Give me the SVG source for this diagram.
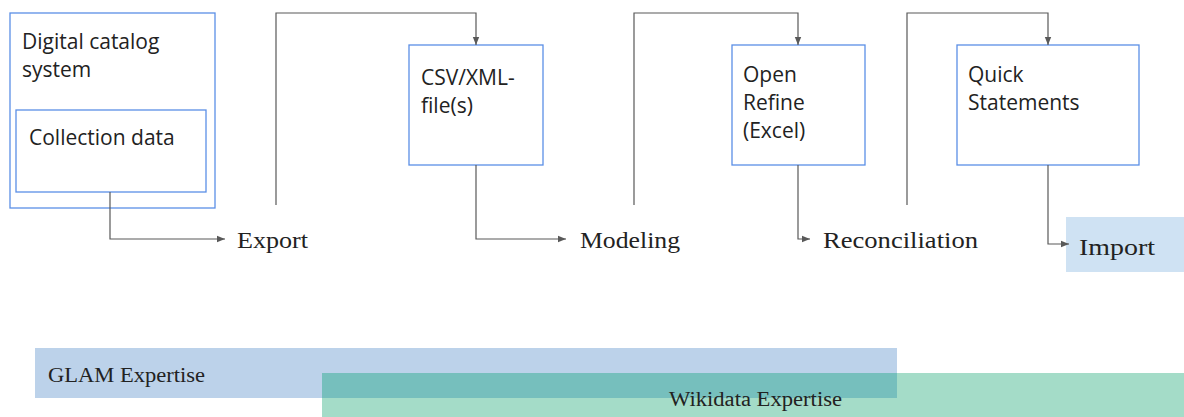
<svg xmlns="http://www.w3.org/2000/svg" width="1184" height="417" viewBox="0 0 1184 417">
<style>
.box{fill:#ffffff;stroke:#5b8fe6;stroke-width:1.3}
.lbl{font-family:"Open Sans","Noto Sans",sans-serif;font-size:21px;fill:#222222}
.step{font-family:"Liberation Serif","DejaVu Serif",serif;font-size:23px;fill:#222222}
.band{font-family:"Liberation Serif","DejaVu Serif",serif;font-size:20px;fill:#222222}
.conn{fill:none;stroke:#595959;stroke-width:1.2}
</style>
<defs>
<marker id="arr" viewBox="0 0 10 10" refX="10" refY="5" markerWidth="8" markerHeight="8" markerUnits="userSpaceOnUse" orient="auto">
<path d="M0,1 L10,5 L0,9 z" fill="#595959"/>
</marker>
</defs>
<g id="bands">
<rect id="glam-band" x="35" y="348" width="862" height="50" fill="#bcd2ea"/>
<rect id="wikidata-band" x="322" y="373" width="862" height="44" fill="#a4dcc8"/>
<rect x="322" y="373" width="575" height="25" fill="#76bfbd"/>
<text class="band" x="48" y="382" textLength="157" lengthAdjust="spacingAndGlyphs">GLAM Expertise</text>
<text class="band" x="669" y="406" textLength="173" lengthAdjust="spacingAndGlyphs">Wikidata Expertise</text>
</g>
<g id="catalog">
<rect class="box" x="10" y="13" width="205" height="195"/>
<text class="lbl" x="22" y="49">Digital catalog</text>
<text class="lbl" x="22" y="77">system</text>
</g>
<g id="collection">
<rect class="box" x="16" y="110" width="190" height="82"/>
<text class="lbl" x="29" y="145">Collection data</text>
</g>
<g id="csv">
<rect class="box" x="409" y="45" width="134" height="120"/>
<text class="lbl" x="421" y="85">CSV/XML-</text>
<text class="lbl" x="421" y="113">file(s)</text>
</g>
<g id="openrefine">
<rect class="box" x="732" y="45" width="133" height="120"/>
<text class="lbl" x="743" y="82">Open</text>
<text class="lbl" x="743" y="110">Refine</text>
<text class="lbl" x="743" y="138">(Excel)</text>
</g>
<g id="quickstatements">
<rect class="box" x="957" y="45" width="182" height="120"/>
<text class="lbl" x="968" y="82">Quick</text>
<text class="lbl" x="968" y="110">Statements</text>
</g>
<g id="export"><text class="step" x="237" y="248" textLength="71" lengthAdjust="spacingAndGlyphs">Export</text></g>
<g id="modeling"><text class="step" x="580" y="248" textLength="100" lengthAdjust="spacingAndGlyphs">Modeling</text></g>
<g id="reconciliation"><text class="step" x="823" y="248" textLength="155" lengthAdjust="spacingAndGlyphs">Reconciliation</text></g>
<g id="import">
<rect x="1066" y="217" width="118" height="55" fill="#cfe2f3"/>
<text class="step" x="1079" y="255" textLength="76" lengthAdjust="spacingAndGlyphs">Import</text>
</g>
<g id="connectors">
<path class="conn" d="M110,192 V239 H225" marker-end="url(#arr)"/>
<path class="conn" d="M276,205 V13 H476 V45" marker-end="url(#arr)"/>
<path class="conn" d="M476,165 V239 H566" marker-end="url(#arr)"/>
<path class="conn" d="M634,205 V13 H798 V45" marker-end="url(#arr)"/>
<path class="conn" d="M798,165 V239 H810" marker-end="url(#arr)"/>
<path class="conn" d="M907,205 V13 H1048 V45" marker-end="url(#arr)"/>
<path class="conn" d="M1048,165 V244 H1069" marker-end="url(#arr)"/>
</g>
</svg>
